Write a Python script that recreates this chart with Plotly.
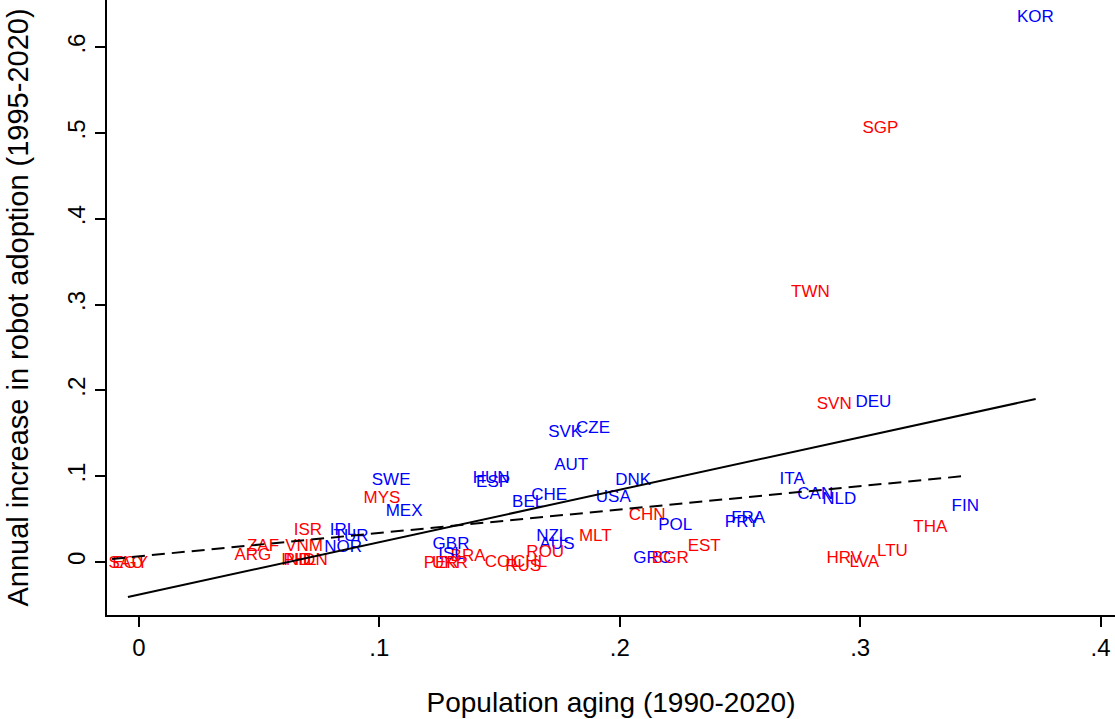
import plotly.graph_objects as go

countries = ["KOR","SGP","TWN","SVN","DEU","CZE","SVK","AUT","SWE","HUN","ESP","MYS","DNK","ITA",
             "CHE","BEL","USA","CAN","NLD","MEX","FIN","CHN","FRA","PRY","POL","THA","ISR","IRL",
             "TUR","NZL","MLT","AUS","GBR","ZAF","VNM","NOR","ARG","EST","ROU","BRA","ISL","IND",
             "PHL","IDN","GRC","BGR","LTU","HRV","LVA","SAU","EGY","PER","UKR","COL","CHL","RUS"]
aging = [0.3729,0.3084,0.2793,0.2892,0.3055,0.1889,0.1773,0.1798,0.1049,0.1465,0.1473,0.1011,0.2056,0.2717,
         0.1706,0.1619,0.1973,0.2813,0.2913,0.1103,0.3437,0.2114,0.2534,0.2509,0.2231,0.3292,0.0703,0.0849,
         0.0882,0.1719,0.1898,0.1739,0.1298,0.0516,0.0687,0.0849,0.0474,0.2351,0.1690,0.1369,0.1298,0.0653,
         0.0670,0.0724,0.2135,0.2210,0.3134,0.2934,0.3017,-0.0054,-0.0037,0.1257,0.1294,0.1511,0.1627,0.1598]
robots = [0.6340,0.5050,0.3140,0.1833,0.1856,0.1553,0.1507,0.1122,0.0947,0.0971,0.0924,0.0738,0.0947,0.0959,
          0.0773,0.0691,0.0749,0.0784,0.0726,0.0586,0.0644,0.0539,0.0504,0.0458,0.0423,0.0400,0.0365,0.0365,
          0.0295,0.0295,0.0295,0.0201,0.0201,0.0178,0.0178,0.0166,0.0073,0.0178,0.0108,0.0062,0.0085,0.0015,
          0.0015,0.0015,0.0038,0.0038,0.0120,0.0038,-0.0008,-0.0020,-0.0020,-0.0020,-0.0020,-0.0008,-0.0008,-0.0055]
group = ["b","r","r","r","b","b","b","b","b","b","b","r","b","b",
         "b","b","b","b","b","b","b","r","b","b","b","r","r","b",
         "b","b","r","b","b","r","r","b","r","r","r","r","b","r",
         "r","r","b","r","r","r","r","r","r","r","r","r","r","r"]

# fitted lines (slope, intercept, x-range)
fit_all = dict(slope=0.611, intercept=-0.038, xmin=-0.0046, xmax=0.373)
fit_sub = dict(slope=0.2725, intercept=0.0066, xmin=-0.0112, xmax=0.3437)

xticks = [0, 0.1, 0.2, 0.3, 0.4]
xticktext = ["0", ".1", ".2", ".3", ".4"]
yticks = [0, 0.1, 0.2, 0.3, 0.4, 0.5, 0.6]
yticktext = ["0", ".1", ".2", ".3", ".4", ".5", ".6"]

colors = {"r": "#FF0000", "b": "#0000FF"}
FONT = "Liberation Sans, Arial, sans-serif"

fig = go.Figure()
fig.add_trace(go.Scatter(
    x=aging, y=robots, mode="text", text=countries,
    textposition="middle center",
    textfont=dict(family=FONT, size=17, color=[colors[g] for g in group]),
    showlegend=False, hoverinfo="text"))

for f, dash in [(fit_all, "solid"), (fit_sub, "13px,7px")]:
    xs = [f["xmin"], f["xmax"]]
    ys = [f["intercept"] + f["slope"] * v for v in xs]
    fig.add_trace(go.Scatter(x=xs, y=ys, mode="lines",
                             line=dict(color="black", width=2, dash=dash),
                             showlegend=False))

fig.update_layout(
    width=1115, height=719,
    margin=dict(l=107, r=0, t=0, b=104),
    plot_bgcolor="white", paper_bgcolor="white",
    font=dict(family=FONT, color="black"),
)
fig.update_xaxes(
    range=[-0.0133, 0.406], tickvals=xticks, ticktext=xticktext,
    showgrid=False, zeroline=False, showline=True, linecolor="black", linewidth=2,
    ticks="outside", ticklen=10, tickwidth=1.5, tickcolor="black",
    tickfont=dict(size=24, family=FONT),
    title=dict(text="Population aging (1990-2020)", font=dict(size=28, family=FONT), standoff=33),
)
fig.update_yaxes(
    range=[-0.0618, 0.655], tickvals=yticks, ticktext=yticktext,
    showgrid=False, zeroline=False, showline=True, linecolor="black", linewidth=2,
    ticks="outside", ticklen=10, tickwidth=1.5, tickcolor="black", tickangle=-90,
    tickfont=dict(size=24, family=FONT),
    title=dict(text="Annual increase in robot adoption (1995-2020)", font=dict(size=29, family=FONT), standoff=26),
)

fig.write_html("out.html")
